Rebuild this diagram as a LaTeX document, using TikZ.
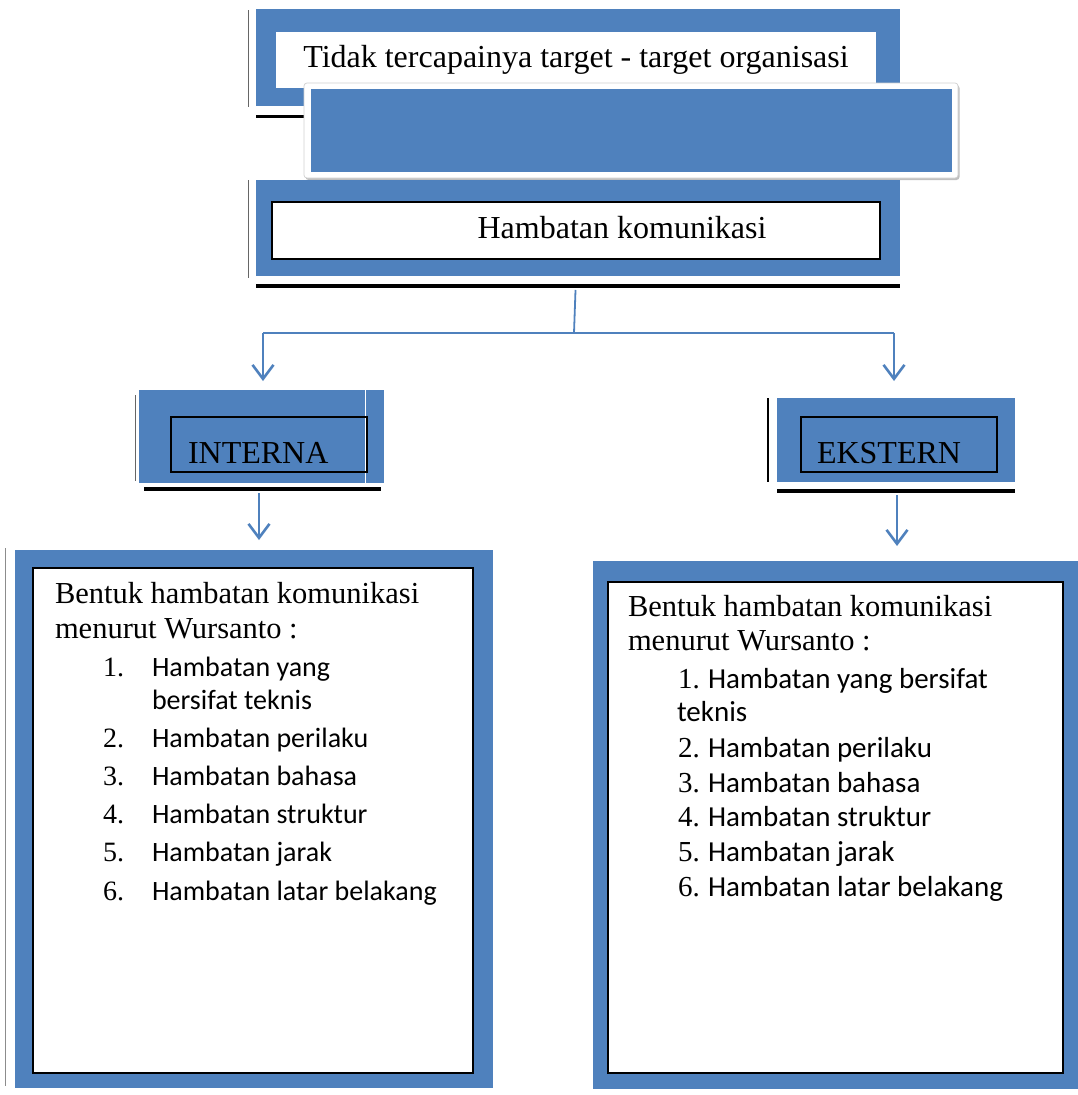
\documentclass[tikz,border=0pt]{standalone}
\usepackage{fontspec}
\setmainfont{Liberation Serif}
\newfontfamily\calibri{Carlito}
\usetikzlibrary{arrows.meta,shadows}
\definecolor{obl}{HTML}{4F81BD}
\begin{document}
\begin{tikzpicture}[x=1pt,y=-1pt,
  plainbox/.style={rectangle, inner sep=0pt, outer sep=0pt},
  bluefill/.style={plainbox, fill=obl},
  whitefill/.style={plainbox, fill=white},
  inframe/.style={plainbox, draw=black, line width=2.2pt},
  thinl/.style={draw=black!60, line width=1pt},
  thickl/.style={draw=black, line width=3.2pt},
  conn/.style={draw=obl, line width=1.8pt},
  arr/.style={draw=obl, line width=2.6pt, -{Straight Barb[length=14pt,width=21pt,line width=2.6pt]}},
  txt/.style={inner sep=0pt, outer sep=0pt, anchor=base west},
  serbig/.style={txt, font=\fontsize{32}{38}\selectfont},
  sermid/.style={txt, font=\fontsize{30.5}{36}\selectfont},
  calL/.style={txt, font=\calibri\fontsize{28}{34}\selectfont},
  numL/.style={txt, font=\fontsize{28}{34}\selectfont},
  calR/.style={txt, font=\calibri\fontsize{29}{35}\selectfont},
  numR/.style={txt, font=\fontsize{29}{35}\selectfont}
]
\useasboundingbox (0,0) rectangle (1077,1095);

% ---------- top box ----------
\node[bluefill, minimum width=644pt, minimum height=97pt] (topb) at (578,57.5) {};
\node[whitefill, minimum width=600pt, minimum height=56pt] (topw) at (576,60) {};
\node[serbig, anchor=base] (toptxt) at (576,67) {Tidak tercapainya target - target organisasi};
\draw[thinl] (248,10) -- (248,107);
\draw[thickl] (256,116.5) -- (900,116.5);

% ---------- floating box ----------
\node[plainbox, fill=white, draw=black!18, line width=0.7pt, rounded corners=3pt,
      drop shadow={shadow xshift=1.5pt, shadow yshift=-2pt, opacity=0.25, fill=black},
      minimum width=654pt, minimum height=95pt] (fl) at (631,130.5) {};
\node[bluefill, minimum width=641pt, minimum height=83pt] (flb) at (631.5,130.5) {};

% ---------- second box ----------
\node[bluefill, minimum width=644pt, minimum height=96pt] (hkb) at (578,228) {};
\node[inframe, fill=white, minimum width=608pt, minimum height=57pt] (hkw) at (576,230.5) {};
\node[serbig, anchor=base] (hktxt) at (622,238) {Hambatan komunikasi};
\draw[thinl] (248,180) -- (248,278);
\draw[thickl] (256,286) -- (900,286);

% ---------- INTERNA ----------
\node[bluefill, minimum width=245pt, minimum height=93pt] (intb) at (261.5,436.5) {};
\draw[white, line width=1.2pt] (365.5,390) -- (365.5,483);
\node[inframe, minimum width=196pt, minimum height=55pt] (intw) at (269,444.5) {};
\node[serbig] (inttxt) at (188,463) {INTERNA};
\draw[thinl] (135,395) -- (135,481);
\draw[thickl] (144,489) -- (381,489);

% ---------- EKSTERN ----------
\node[bluefill, minimum width=238pt, minimum height=84pt] (extb) at (896,440) {};
\node[inframe, minimum width=196pt, minimum height=55pt] (extw) at (899,444.5) {};
\node[serbig] (exttxt) at (817,463) {EKSTERN};
\draw[draw=black, line width=1.2pt] (768,398) -- (768,482);
\draw[thickl] (777,491) -- (1015,491);

% ---------- left big box ----------
\node[bluefill, minimum width=478pt, minimum height=538pt] (lbig) at (254,819) {};
\node[inframe, fill=white, line width=2pt, minimum width=440pt, minimum height=505pt] (lin) at (253,820.5) {};
\draw[thinl, draw=black!45] (5,548) -- (5,1086);
\node[sermid] (lh1) at (55,603) {Bentuk hambatan komunikasi};
\node[sermid] (lh2) at (55,638) {menurut Wursanto :};
\node[numL] (ln1) at (103,676) {1.};
\node[calL] (li1) at (152,676) {Hambatan yang};
\node[calL] (li1b) at (152,709) {bersifat teknis};
\node[numL] (ln2) at (103,747) {2.};
\node[calL] (li2) at (152,747) {Hambatan perilaku};
\node[numL] (ln3) at (103,785) {3.};
\node[calL] (li3) at (152,785) {Hambatan bahasa};
\node[numL] (ln4) at (103,823) {4.};
\node[calL] (li4) at (152,823) {Hambatan struktur};
\node[numL] (ln5) at (103,861) {5.};
\node[calL] (li5) at (152,861) {Hambatan jarak};
\node[numL] (ln6) at (103,900) {6.};
\node[calL] (li6) at (152,900) {Hambatan latar belakang};

% ---------- right big box ----------
\node[bluefill, minimum width=490pt, minimum height=528pt] (rbig) at (838,825) {};
\node[inframe, fill=white, line width=2pt, minimum width=455pt, minimum height=491pt] (rin) at (835.5,827.5) {};
\node[sermid] (rh1) at (628,616) {Bentuk hambatan komunikasi};
\node[sermid] (rh2) at (628,650) {menurut Wursanto :};
\node[numR] (rn1) at (678,688) {1.};
\node[calR] (ri1) at (708,688) {Hambatan yang bersifat};
\node[calR] (ri1b) at (677,721) {teknis};
\node[numR] (rn2) at (678,757) {2.};
\node[calR] (ri2) at (708,757) {Hambatan perilaku};
\node[numR] (rn3) at (678,792) {3.};
\node[calR] (ri3) at (708,792) {Hambatan bahasa};
\node[numR] (rn4) at (678,826) {4.};
\node[calR] (ri4) at (708,826) {Hambatan struktur};
\node[numR] (rn5) at (678,861) {5.};
\node[calR] (ri5) at (708,861) {Hambatan jarak};
\node[numR] (rn6) at (678,896) {6.};
\node[calR] (ri6) at (708,896) {Hambatan latar belakang};

% ---------- connectors ----------
\coordinate (jm) at (574,333);
\coordinate (jl) at (263,333);
\coordinate (jr) at (894,333);
\coordinate (s0) at ([xshift=-2pt]hkb.south);
\draw[conn, shorten <=14pt] (s0) -- (jm);
\draw[conn] (jl) -- (jr);
\draw[arr, shorten >=9pt] (jl) -- (jl |- intb.north);
\draw[arr, shorten >=17pt] (jr) -- (jr |- extb.north);
\coordinate (ia) at ([xshift=-2.5pt]intb.south);
\draw[arr, shorten <=10pt, shorten >=10pt] (ia) -- (ia |- lbig.north);
\coordinate (ea) at ([xshift=1pt]extb.south);
\draw[arr, shorten <=13pt, shorten >=15pt] (ea) -- (ea |- rbig.north);
\end{tikzpicture}
\end{document}
